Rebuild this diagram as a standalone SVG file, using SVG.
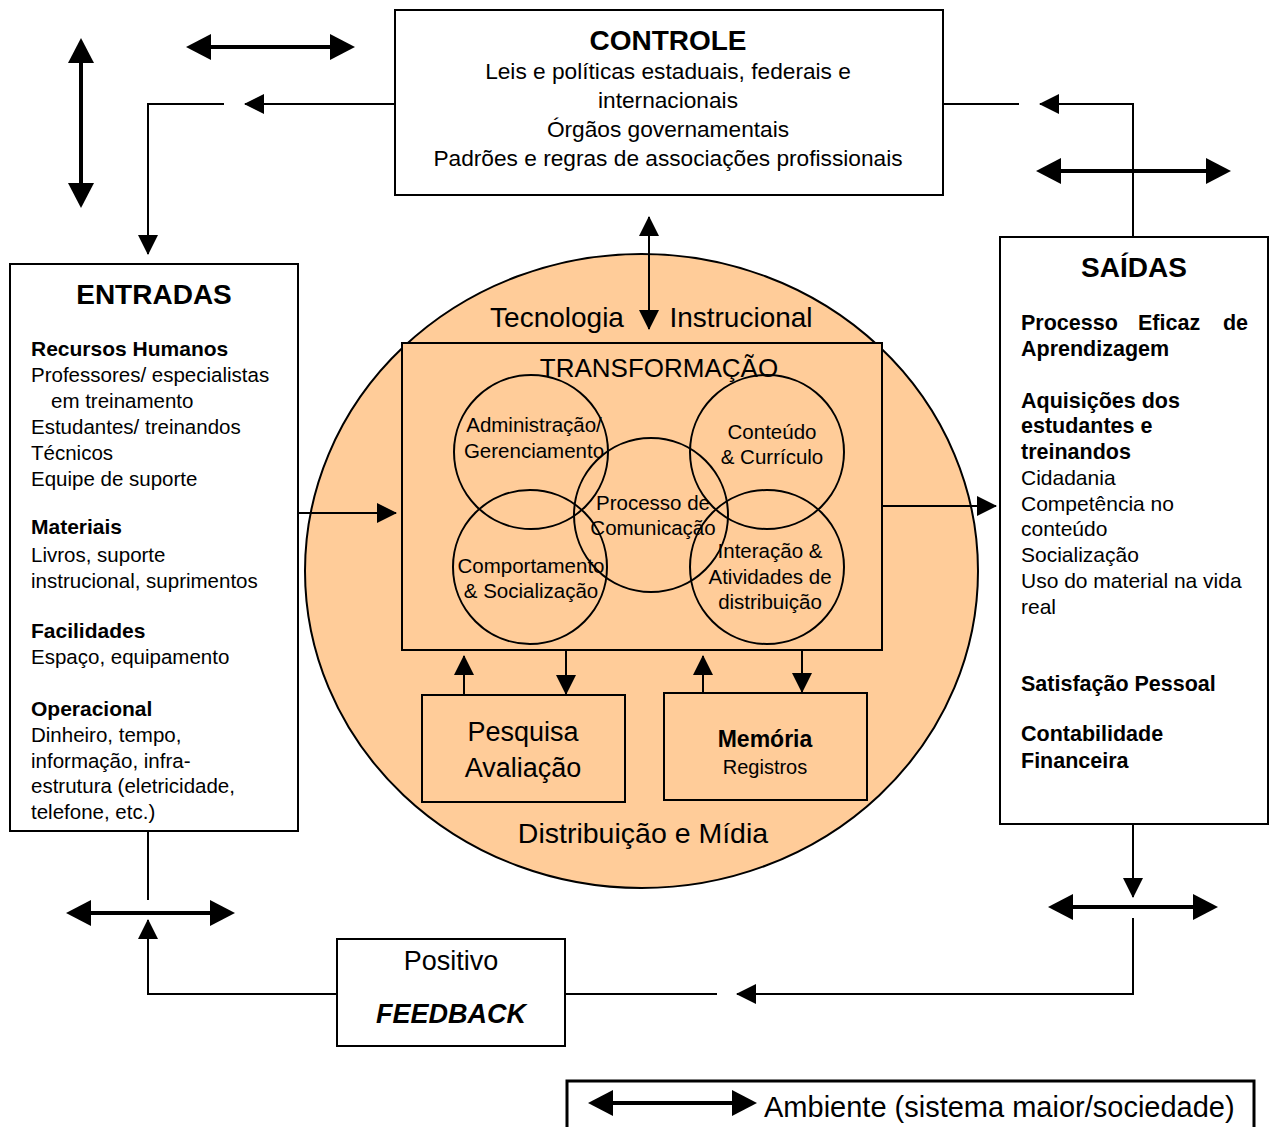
<svg xmlns="http://www.w3.org/2000/svg" width="1271" height="1127" viewBox="0 0 1271 1127">
<style>
.t{font-family:"Liberation Sans",Arial,sans-serif;fill:#000}
.b{font-weight:bold}
.box{fill:#fff;stroke:#000;stroke-width:2}
.pbox{fill:#FFCC99;stroke:#000;stroke-width:2}
.ring{fill:none;stroke:#000;stroke-width:2}
.conn{fill:none;stroke:#000;stroke-width:2}
.env line{stroke:#000;stroke-width:4}
.env polygon{fill:#000}
</style>
<defs>
<marker id="ah" viewBox="0 0 20 20" refX="19" refY="10" markerWidth="20" markerHeight="20" markerUnits="userSpaceOnUse" orient="auto-start-reverse">
<path d="M0,0 L20,10 L0,20 z" fill="#000"/>
</marker>
</defs>

<g id="sistema">
<ellipse cx="641.5" cy="571" rx="336.5" ry="317" fill="#FFCC99" stroke="#000" stroke-width="2"/>
<text class="t" x="557" y="327" font-size="28" text-anchor="middle">Tecnologia</text>
<text class="t" x="741" y="327" font-size="28" text-anchor="middle">Instrucional</text>
<text class="t" x="643" y="843" font-size="28.5" text-anchor="middle">Distribuição e Mídia</text>
</g>

<g id="transformacao">
<rect class="pbox" x="402" y="343" width="480" height="307"/>
<text class="t" x="659" y="377" font-size="26" text-anchor="middle">TRANSFORMAÇÃO</text>
</g>

<g id="administracao">
<circle class="ring" cx="531" cy="452" r="77"/>
<text class="t" x="534" y="432" font-size="20.5" text-anchor="middle">Administração/</text>
<text class="t" x="534" y="458" font-size="20.5" text-anchor="middle">Gerenciamento</text>
</g>
<g id="conteudo">
<circle class="ring" cx="767" cy="452" r="77"/>
<text class="t" x="772" y="439" font-size="20.5" text-anchor="middle">Conteúdo</text>
<text class="t" x="772" y="464" font-size="20.5" text-anchor="middle">&amp; Currículo</text>
</g>
<g id="comportamento">
<circle class="ring" cx="530" cy="567" r="77"/>
<text class="t" x="531" y="573" font-size="20.5" text-anchor="middle">Comportamento</text>
<text class="t" x="531" y="598" font-size="20.5" text-anchor="middle">&amp; Socialização</text>
</g>
<g id="interacao">
<circle class="ring" cx="767" cy="567" r="77"/>
<text class="t" x="770" y="558" font-size="20.5" text-anchor="middle">Interação &amp;</text>
<text class="t" x="770" y="584" font-size="20.5" text-anchor="middle">Atividades de</text>
<text class="t" x="770" y="609" font-size="20.5" text-anchor="middle">distribuição</text>
</g>
<g id="comunicacao">
<circle class="ring" cx="651" cy="515" r="77"/>
<text class="t" x="653" y="510" font-size="20.5" text-anchor="middle">Processo de</text>
<text class="t" x="653" y="535" font-size="20.5" text-anchor="middle">Comunicação</text>
</g>

<g id="pesquisa">
<rect class="pbox" x="422" y="695" width="203" height="107"/>
<text class="t" x="523" y="741" font-size="27" text-anchor="middle">Pesquisa</text>
<text class="t" x="523" y="777" font-size="27" text-anchor="middle">Avaliação</text>
</g>
<g id="memoria">
<rect class="pbox" x="664" y="693" width="203" height="107"/>
<text class="t b" x="765" y="747" font-size="23" text-anchor="middle">Memória</text>
<text class="t" x="765" y="774" font-size="20" text-anchor="middle">Registros</text>
</g>

<g id="controle">
<rect class="box" x="395" y="10" width="548" height="185"/>
<text class="t b" x="668" y="50" font-size="28" text-anchor="middle">CONTROLE</text>
<text class="t" x="668" y="79" font-size="22.7" text-anchor="middle">Leis e políticas estaduais, federais e</text>
<text class="t" x="668" y="108" font-size="22.7" text-anchor="middle">internacionais</text>
<text class="t" x="668" y="137" font-size="22.7" text-anchor="middle">Órgãos governamentais</text>
<text class="t" x="668" y="166" font-size="22.7" text-anchor="middle">Padrões e regras de associações profissionais</text>
</g>

<g id="entradas">
<rect class="box" x="10" y="264" width="288" height="567"/>
<text class="t b" x="154" y="304" font-size="28" text-anchor="middle">ENTRADAS</text>
<g font-size="20.5">
<text class="t b" x="31" y="356" font-size="21">Recursos Humanos</text>
<text class="t" x="31" y="382">Professores/ especialistas</text>
<text class="t" x="51" y="408">em treinamento</text>
<text class="t" x="31" y="434">Estudantes/ treinandos</text>
<text class="t" x="31" y="460">Técnicos</text>
<text class="t" x="31" y="486">Equipe de suporte</text>
<text class="t b" x="31" y="534" font-size="21">Materiais</text>
<text class="t" x="31" y="562">Livros, suporte</text>
<text class="t" x="31" y="588">instrucional, suprimentos</text>
<text class="t b" x="31" y="638" font-size="21">Facilidades</text>
<text class="t" x="31" y="664">Espaço, equipamento</text>
<text class="t b" x="31" y="716" font-size="21">Operacional</text>
<text class="t" x="31" y="742">Dinheiro, tempo,</text>
<text class="t" x="31" y="768">informação, infra-</text>
<text class="t" x="31" y="793">estrutura (eletricidade,</text>
<text class="t" x="31" y="819">telefone, etc.)</text>
</g>
</g>

<g id="saidas">
<rect class="box" x="1000" y="237" width="268" height="587"/>
<text class="t b" x="1134" y="277" font-size="28" text-anchor="middle">SAÍDAS</text>
<g font-size="21">
<text class="t b" x="1021" y="330" font-size="21.5">Processo</text>
<text class="t b" x="1138" y="330" font-size="21.5">Eficaz</text>
<text class="t b" x="1248" y="330" font-size="21.5" text-anchor="end">de</text>
<text class="t b" x="1021" y="356" font-size="21.5">Aprendizagem</text>
<text class="t b" x="1021" y="408" font-size="21.5">Aquisições dos</text>
<text class="t b" x="1021" y="433" font-size="21.5">estudantes e</text>
<text class="t b" x="1021" y="459" font-size="21.5">treinandos</text>
<text class="t" x="1021" y="485">Cidadania</text>
<text class="t" x="1021" y="511">Competência no</text>
<text class="t" x="1021" y="536">conteúdo</text>
<text class="t" x="1021" y="562">Socialização</text>
<text class="t" x="1021" y="588">Uso do material na vida</text>
<text class="t" x="1021" y="614">real</text>
<text class="t b" x="1021" y="691" font-size="21.5">Satisfação Pessoal</text>
<text class="t b" x="1021" y="741" font-size="21.5">Contabilidade</text>
<text class="t b" x="1021" y="768" font-size="21.5">Financeira</text>
</g>
</g>

<g id="feedback">
<rect class="box" x="337" y="939" width="228" height="107"/>
<text class="t" x="451" y="970" font-size="27" text-anchor="middle">Positivo</text>
<text class="t b" x="451" y="1023" font-size="27" font-style="italic" text-anchor="middle">FEEDBACK</text>
</g>

<g id="legenda">
<rect x="567" y="1081" width="687" height="60" fill="#fff" stroke="#000" stroke-width="3"/>
<text class="t" x="764" y="1117" font-size="29">Ambiente (sistema maior/sociedade)</text>
</g>

<g id="connectors">
<path class="conn" d="M395,104 H245" marker-end="url(#ah)"/>
<path class="conn" d="M224,104 H148 V254" marker-end="url(#ah)"/>
<path class="conn" d="M943,104 H1019"/>
<path class="conn" d="M1133,237 V104 H1040" marker-end="url(#ah)"/>
<path class="conn" d="M298,513 H396" marker-end="url(#ah)"/>
<path class="conn" d="M882,506 H996" marker-end="url(#ah)"/>
<path class="conn" d="M649,217 V329" marker-start="url(#ah)" marker-end="url(#ah)"/>
<path class="conn" d="M464,695 V656" marker-end="url(#ah)"/>
<path class="conn" d="M566,650 V694" marker-end="url(#ah)"/>
<path class="conn" d="M703,693 V656" marker-end="url(#ah)"/>
<path class="conn" d="M802,650 V692" marker-end="url(#ah)"/>
<path class="conn" d="M1133,824 V897" marker-end="url(#ah)"/>
<path class="conn" d="M1133,918 V994 H737" marker-end="url(#ah)"/>
<path class="conn" d="M717,994 H565"/>
<path class="conn" d="M337,994 H148 V920" marker-end="url(#ah)"/>
<path class="conn" d="M148,831 V900"/>

<g class="env">
<line x1="81" y1="62" x2="81" y2="184"/>
<polygon points="81,38 68,63 94,63"/>
<polygon points="81,208 68,183 94,183"/>
</g>
<g class="env">
<line x1="210" y1="47" x2="331" y2="47"/>
<polygon points="186,47 211,34 211,60"/>
<polygon points="355,47 330,34 330,60"/>
</g>
<g class="env">
<line x1="1060" y1="171" x2="1207" y2="171"/>
<polygon points="1036,171 1061,158 1061,184"/>
<polygon points="1231,171 1206,158 1206,184"/>
</g>
<g class="env">
<line x1="1072" y1="907" x2="1194" y2="907"/>
<polygon points="1048,907 1073,894 1073,920"/>
<polygon points="1218,907 1193,894 1193,920"/>
</g>
<g class="env">
<line x1="90" y1="913" x2="211" y2="913"/>
<polygon points="66,913 91,900 91,926"/>
<polygon points="235,913 210,900 210,926"/>
</g>
<g class="env">
<line x1="612" y1="1103" x2="733" y2="1103"/>
<polygon points="588,1103 613,1090 613,1116"/>
<polygon points="757,1103 732,1090 732,1116"/>
</g>
</g>
</svg>
